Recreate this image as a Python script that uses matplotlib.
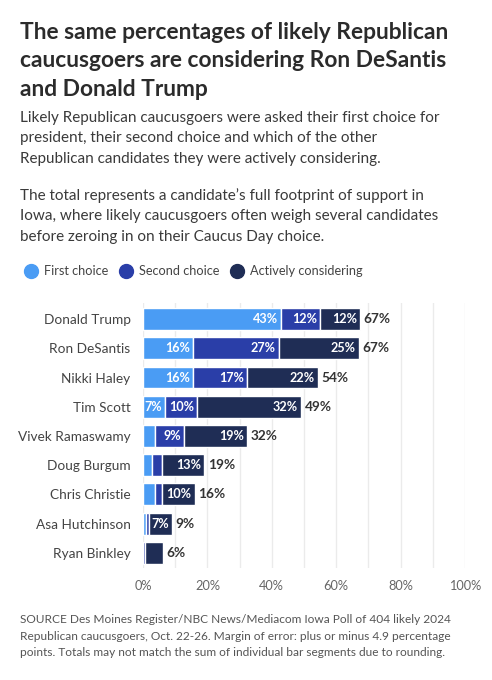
import matplotlib.pyplot as plt
from matplotlib.lines import Line2D

candidates = ['Donald Trump', 'Ron DeSantis', 'Nikki Haley', 'Tim Scott',
              'Vivek Ramaswamy', 'Doug Burgum', 'Chris Christie',
              'Asa Hutchinson', 'Ryan Binkley']
first = [43.0, 15.6, 15.6, 6.8, 3.8, 2.9, 3.8, 0.9, 0.0]
second = [12.0, 26.6, 16.6, 10.0, 9.0, 2.9, 2.0, 1.0, 0.7]
considering = [12.3, 24.8, 22.1, 32.3, 19.4, 13.2, 10.2, 7.1, 5.4]
totals = [67, 67, 54, 49, 32, 19, 16, 9, 6]
series_names = ['First choice', 'Second choice', 'Actively considering']
colors = ['#4a9cf4', '#2a3ea8', '#1f2d55']
xticks = [0, 20, 40, 60, 80, 100]

FONT = 'Lato'
plt.rcParams['font.family'] = [FONT, 'DejaVu Sans']

fig = plt.figure(figsize=(4.92, 6.80), dpi=100)
W, H = 492, 680

def fy(px):
    return 1 - px / H

# title block
fig.text(20 / W, fy(22), 'The same percentages of likely Republican\ncaucusgoers are considering Ron DeSantis\nand Donald Trump',
         fontsize=16.4, fontweight='bold', color='#2b2b2b', va='top', ha='left', linespacing=1.43)
fig.text(20 / W, fy(111), 'Likely Republican caucusgoers were asked their first choice for\npresident, their second choice and which of the other\nRepublican candidates they were actively considering.',
         fontsize=10.95, color='#3a3a3a', va='top', ha='left', linespacing=1.58)
fig.text(20 / W, fy(188), 'The total represents a candidate\u2019s full footprint of support in\nIowa, where likely caucusgoers often weigh several candidates\nbefore zeroing in on their Caucus Day choice.',
         fontsize=10.95, color='#3a3a3a', va='top', ha='left', linespacing=1.58)

# legend
handles = [Line2D([], [], marker='o', linestyle='none', markersize=10,
                  markerfacecolor=c, markeredgecolor=c) for c in colors]
fig.legend(handles, series_names, loc='center left', bbox_to_anchor=(13 / W, fy(271)),
           ncol=3, frameon=False, fontsize=9.2, handletextpad=0.05, columnspacing=0.35,
           labelcolor='#444444', borderaxespad=0)

ax = fig.add_axes([143 / W, fy(568), (465 - 143) / W, (568 - 303) / H])
ys = range(len(candidates))
left = [0] * len(candidates)
for vals, col in zip([first, second, considering], colors):
    ax.barh(ys, vals, left=left, height=0.75, color=col, edgecolor='white', linewidth=1, zorder=3)
    for i, v in enumerate(vals):
        if v >= 6:
            ax.text(left[i] + v - 0.9, i, f'{round(v)}%', ha='right', va='center',
                    color='white', fontsize=9.1, fontweight='bold', zorder=4)
    left = [l + v for l, v in zip(left, vals)]

for i, t in enumerate(totals):
    ax.text(left[i] + 1.2, i, f'{t}%', ha='left', va='center', color='#333333',
            fontsize=9.8, fontweight='bold')

ax.set_xlim(0, 100)
ax.set_ylim(len(candidates) - 0.48, -0.55)
ax.set_xticks(range(0, 101, 10), minor=False)
ax.set_xticklabels([f'{x}%' if x in xticks else '' for x in range(0, 101, 10)])
ax.grid(axis='x', color='#ebebeb', linewidth=1, zorder=0)
ax.set_yticks(list(ys))
ax.set_yticklabels(candidates)
ax.tick_params(axis='y', length=0, pad=9, labelsize=9.8, labelcolor='#444444')
ax.tick_params(axis='x', length=0, pad=9, labelsize=9.2, labelcolor='#666666')
for s in ax.spines.values():
    s.set_visible(False)

fig.text(20 / W, fy(614), 'SOURCE Des Moines Register/NBC News/Mediacom Iowa Poll of 404 likely 2024\nRepublican caucusgoers, Oct. 22-26. Margin of error: plus or minus 4.9 percentage\npoints. Totals may not match the sum of individual bar segments due to rounding.',
         fontsize=8.55, color='#555555', va='top', ha='left', linespacing=1.62)

fig.savefig('out.png', dpi=100)
